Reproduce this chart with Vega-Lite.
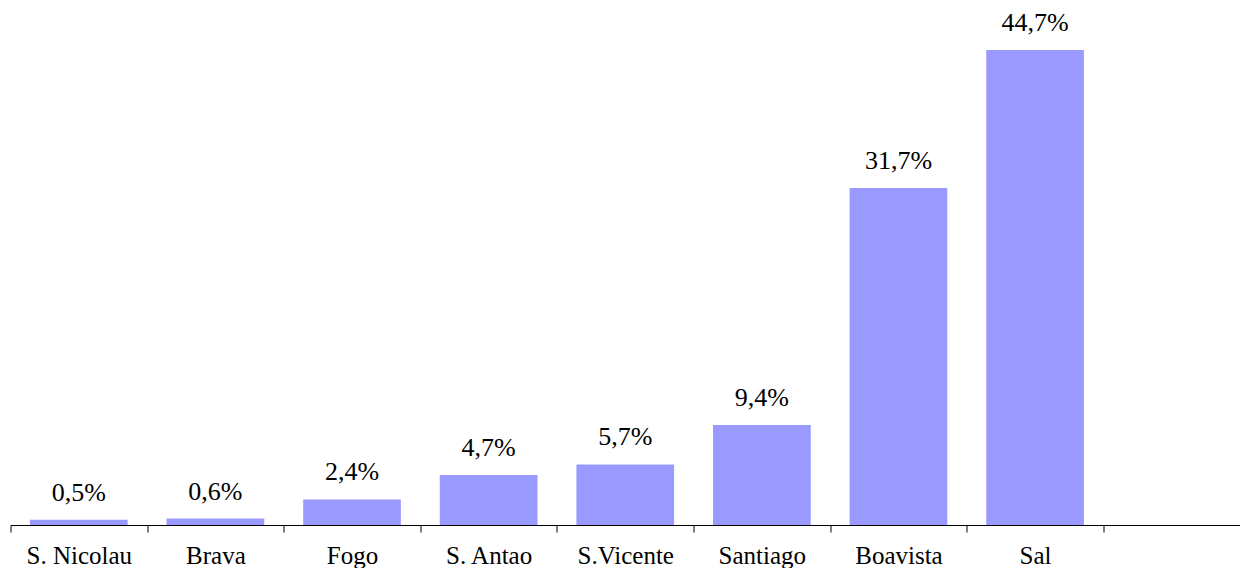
{
  "$schema": "https://vega.github.io/schema/vega-lite/v6.json",
  "autosize": {"type": "none"},
  "padding": {"left": 10.5, "top": 0, "right": 0, "bottom": 43},
  "width": 1229.5,
  "height": 525,
  "background": "white",
  "data": {"values": [
    {"island": "S. Nicolau", "value": 0.5, "label": "0,5%"},
    {"island": "Brava", "value": 0.6, "label": "0,6%"},
    {"island": "Fogo", "value": 2.4, "label": "2,4%"},
    {"island": "S. Antao", "value": 4.7, "label": "4,7%"},
    {"island": "S.Vicente", "value": 5.7, "label": "5,7%"},
    {"island": "Santiago", "value": 9.4, "label": "9,4%"},
    {"island": "Boavista", "value": 31.7, "label": "31,7%"},
    {"island": "Sal", "value": 44.7, "label": "44,7%"}
  ]},
  "encoding": {
    "x": {
      "field": "island", "type": "nominal", "sort": null,
      "scale": {"domain": ["S. Nicolau", "Brava", "Fogo", "S. Antao", "S.Vicente", "Santiago", "Boavista", "Sal", " "], "paddingInner": 0, "paddingOuter": 0},
      "axis": {
        "title": null, "labelAngle": 0, "tickBand": "extent",
        "domainColor": "black", "tickColor": "black", "tickSize": 7,
        "labelFont": "Liberation Serif", "labelFontSize": 25, "labelColor": "black",
        "labelBaseline": "alphabetic", "labelPadding": 31, "grid": false
      }
    },
    "y": {
      "field": "value", "type": "quantitative",
      "scale": {"domain": [0, 49.4], "nice": false},
      "axis": null
    }
  },
  "layer": [
    {"mark": {"type": "bar", "color": "#9999FF", "width": {"band": 0.715}}},
    {"mark": {"type": "text", "font": "Liberation Serif", "fontSize": 26, "color": "black", "baseline": "alphabetic", "dy": -19},
     "encoding": {"text": {"field": "label"}}}
  ],
  "config": {"view": {"stroke": null}}
}
